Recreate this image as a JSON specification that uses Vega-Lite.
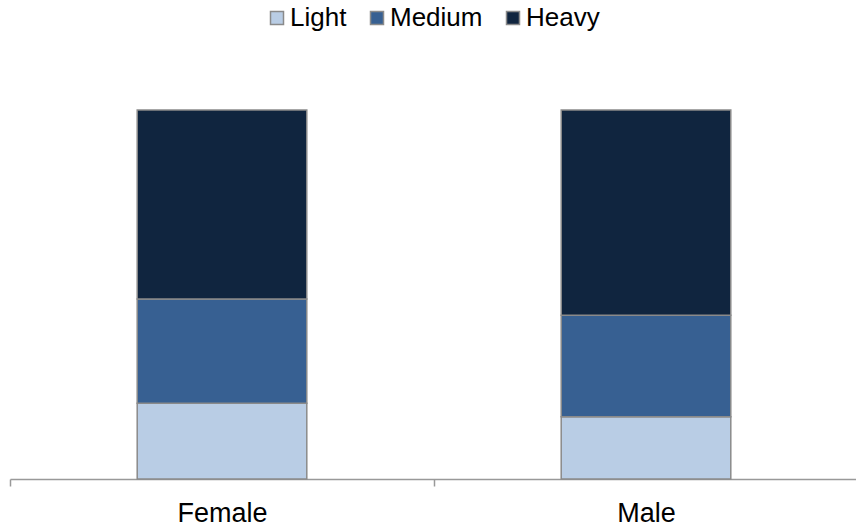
{
  "$schema": "https://vega.github.io/schema/vega-lite/v6.json",
  "autosize": "none",
  "width": 848,
  "height": 369,
  "padding": {"left": 10, "top": 110, "right": 0, "bottom": 48},
  "background": "white",
  "config": {"view": {"stroke": null}, "font": "Liberation Sans"},
  "data": {"values": [
    {"gender": "Female", "level": "Light", "order": 1, "pct": 20.5},
    {"gender": "Female", "level": "Medium", "order": 2, "pct": 28.3},
    {"gender": "Female", "level": "Heavy", "order": 3, "pct": 51.2},
    {"gender": "Male", "level": "Light", "order": 1, "pct": 16.9},
    {"gender": "Male", "level": "Medium", "order": 2, "pct": 27.5},
    {"gender": "Male", "level": "Heavy", "order": 3, "pct": 55.6}
  ]},
  "mark": {"type": "bar", "stroke": "#8a8a8a", "strokeWidth": 1.5, "width": {"band": 0.4}},
  "encoding": {
    "x": {
      "field": "gender", "type": "nominal",
      "scale": {"paddingInner": 0, "paddingOuter": 0},
      "axis": {
        "title": null, "labelAngle": 0, "labelFontSize": 27, "labelColor": "#000000",
        "labelBaseline": "alphabetic", "labelPadding": 35, "tickSize": 7,
        "domainColor": "#999999", "domainWidth": 1.5, "tickColor": "#999999", "tickWidth": 1.5,
        "tickBand": "extent", "grid": false
      }
    },
    "y": {
      "field": "pct", "type": "quantitative", "stack": "normalize",
      "axis": null
    },
    "order": {"field": "order", "type": "quantitative"},
    "color": {
      "field": "level", "type": "nominal",
      "scale": {"domain": ["Light", "Medium", "Heavy"], "range": ["#B9CDE5", "#376092", "#10253F"]},
      "legend": {
        "title": null, "orient": "none", "direction": "horizontal",
        "legendX": 254, "legendY": -105, "padding": 0,
        "symbolType": "square", "symbolSize": 169, "symbolStrokeColor": "#8a8a8a", "symbolStrokeWidth": 1.5,
        "symbolOpacity": 1,
        "labelFontSize": 26, "labelColor": "#000000", "labelOffset": 0, "columnPadding": 17,
        "labelLimit": 300
      }
    }
  }
}
